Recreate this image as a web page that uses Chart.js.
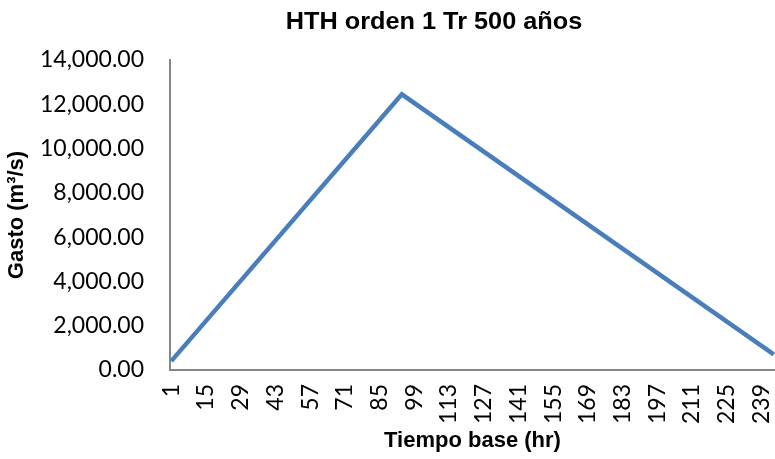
<!DOCTYPE html>
<html>
<head>
<meta charset="utf-8">
<script src="https://cdn.jsdelivr.net/npm/chart.js@4.4.1/dist/chart.umd.min.js"></script>
<style>
  body { margin: 0; background: #fff; }
  canvas { display: block; }
</style>
</head>
<body>
<canvas id="grafico" width="775" height="459"></canvas>
<script>
// hidrograma triangular: puntos
const tiempos = [1, 94, 244];
const gastos = [400, 12450, 700];
const etiquetasX = [1, 15, 29, 43, 57, 71, 85, 99, 113, 127, 141, 155, 169, 183, 197, 211, 225, 239];
const titulo = "HTH orden 1 Tr 500 años";

const fuenteTicks = { family: "Lato", size: 23 };
const fuenteTitulos = { family: "'Liberation Sans', Arial", size: 22, weight: "bold" };

const tituloPlugin = {
  id: "tituloHTH",
  afterDraw(chart) {
    const ctx = chart.ctx;
    ctx.save();
    ctx.fillStyle = "#000";
    ctx.font = "bold 23px 'Liberation Sans', Arial";
    ctx.textAlign = "center";
    ctx.textBaseline = "middle";
    ctx.translate(434, 23);
    ctx.scale(1.1, 1);
    ctx.fillText(titulo, 0, 0);
    ctx.restore();
  }
};

const ctx = document.getElementById("grafico").getContext("2d");
const chart = new Chart(ctx, {
  type: "line",
  data: {
    datasets: [{
      label: "HTH",
      data: tiempos.map((t, i) => ({ x: t, y: gastos[i] })),
      borderColor: "#4A7EBB",
      borderWidth: 4.5,
      pointRadius: 0,
      fill: false,
      tension: 0
    }]
  },
  options: {
    responsive: false,
    animation: false,
    layout: { padding: { top: 60, right: 0, bottom: 0, left: 0 } },
    plugins: {
      legend: { display: false },
      tooltip: { enabled: false }
    },
    scales: {
      x: {
        type: "linear",
        min: 0.5,
        max: 244.5,
        grid: { display: false },
        border: { display: true, color: "#868686", width: 2 },
        afterBuildTicks: (scale) => {
          scale.ticks = etiquetasX.map(v => ({ value: v }));
        },
        afterFit: (scale) => {
          scale.height = 89;
          scale.paddingLeft = 0;
          scale.paddingRight = 0;
        },
        ticks: {
          autoSkip: false,
          minRotation: 90,
          maxRotation: 90,
          padding: 6,
          color: "#000",
          font: fuenteTicks
        },
        title: {
          display: true,
          text: "Tiempo base (hr)",
          color: "#000",
          font: fuenteTitulos,
          padding: { top: 0, bottom: 5 }
        }
      },
      y: {
        min: 0,
        max: 14000,
        grid: { display: false },
        border: { display: true, color: "#868686", width: 2 },
        afterFit: (scale) => {
          scale.width = 170;
          scale.paddingTop = 0;
          scale.paddingBottom = 0;
        },
        ticks: {
          stepSize: 2000,
          padding: 18,
          color: "#000",
          font: fuenteTicks,
          callback: (v) => v.toLocaleString("en-US", { minimumFractionDigits: 2, maximumFractionDigits: 2 })
        },
        title: {
          display: true,
          text: "Gasto (m³/s)",
          color: "#000",
          font: fuenteTitulos,
          padding: { top: 4, bottom: 0 }
        }
      }
    }
  },
  plugins: [tituloPlugin]
});
</script>
</body>
</html>
